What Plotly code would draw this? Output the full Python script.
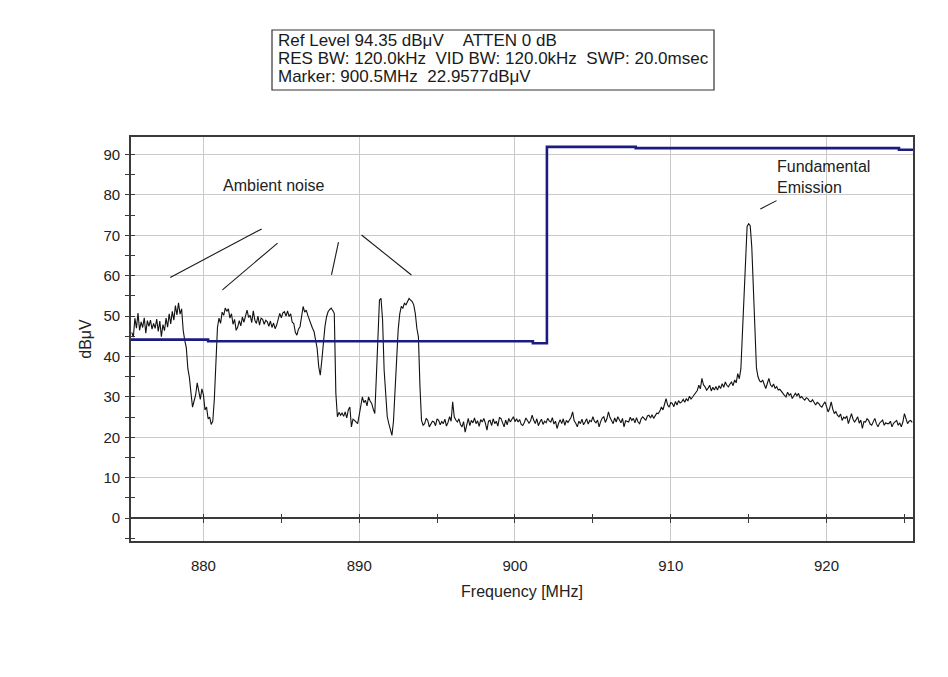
import plotly.graph_objects as go

# ---------------- data ----------------
SWEEP_START_MHZ = 875.4
SWEEP_STEP_MHZ = 0.1

LEVEL_DBUV = [
    46.0, 44.8, 49.5, 47.0, 50.8, 46.5,
    48.6, 47.2, 49.6, 45.8, 48.9, 47.5, 49.0, 46.8, 48.2, 47.0,
    49.3, 46.2, 48.8, 44.9, 47.9, 46.4, 49.5, 47.3, 50.6, 48.1,
    51.2, 49.0, 52.6, 50.3, 53.3, 50.5, 51.8, 46.5, 44.0, 42.2,
    37.0, 34.8, 31.0, 27.5, 29.0, 30.5, 33.5, 31.8, 29.4, 32.0,
    30.5, 26.8, 27.5, 24.6, 25.0, 23.2, 24.0, 29.5, 38.0, 47.2,
    49.5, 48.2, 51.0, 50.2, 52.0, 51.2, 51.8, 49.5, 50.6, 48.0,
    49.2, 46.5, 47.3, 48.9, 47.6, 49.8, 48.5, 50.3, 51.5, 49.7,
    50.2, 48.4, 51.3, 49.0, 48.2, 50.0, 47.8, 49.5, 49.2, 48.0,
    49.0, 48.6, 47.5, 48.8, 47.2, 48.3, 46.9, 47.8, 49.5, 50.7,
    49.6, 50.8, 51.1, 50.0, 51.3, 49.9, 50.6, 48.5, 48.2, 46.0,
    45.3, 46.8, 47.4, 50.0, 52.4, 51.0, 51.5, 50.2, 49.0, 48.1,
    47.0, 46.2, 44.1, 42.0, 37.5, 35.4, 39.1, 43.5, 47.4, 49.8,
    51.1, 51.6, 52.0, 51.4, 50.7, 30.9, 25.1, 26.2, 25.5, 26.0,
    25.2, 26.3, 24.8, 26.8, 27.5, 22.6, 24.5, 24.2, 23.8, 23.4,
    25.5, 28.4, 30.0, 28.6, 29.2, 27.8, 30.0, 29.0, 28.4, 27.0,
    25.9, 35.0, 44.9, 54.0, 54.4, 49.0, 36.6, 29.5, 25.1, 23.4,
    22.0, 20.5, 24.0, 32.5, 40.0, 46.6, 50.5, 52.4, 52.0, 53.2,
    52.8, 53.6, 54.4, 54.0, 53.6, 52.8, 50.7, 47.0, 44.9, 32.5,
    24.2, 23.0, 23.4, 24.7, 24.2, 22.6, 23.3, 24.0, 23.8, 22.9,
    24.6, 24.2, 23.1, 23.9, 23.4, 24.5, 22.8, 23.7, 25.1, 24.0,
    28.8, 25.1, 24.3, 23.8, 24.6, 23.2, 22.6, 23.9, 21.3, 23.5,
    24.7, 22.9, 24.2, 23.6, 24.8, 23.4, 24.1, 22.7, 24.4, 23.8,
    24.7, 23.5, 21.8, 24.0, 24.2, 22.9, 24.6, 23.4, 24.0, 22.8,
    24.9, 24.7, 23.6, 22.6, 24.3, 23.1, 24.7, 23.8, 24.5, 25.1,
    23.9, 24.6, 23.8, 24.4, 23.2, 22.96, 23.7, 24.8, 24.2, 23.5,
    24.1, 25.5, 24.3, 23.4, 24.6, 22.9, 23.8, 24.5, 23.2, 24.0,
    23.6, 24.7, 24.1, 23.8, 24.9, 23.3, 24.0, 22.2, 23.5, 24.4,
    23.4, 24.6, 23.0, 24.2, 23.7, 24.4, 25.0, 26.3, 24.1, 23.5,
    22.6, 24.0, 23.4, 24.5, 23.1, 23.8, 24.6, 23.3, 24.2, 23.9,
    25.1, 24.0, 23.6, 24.3, 22.6, 23.9, 24.8, 25.1, 23.7, 24.6,
    26.3, 24.9, 24.2, 23.4, 24.8, 23.8, 25.1, 24.3, 23.6, 24.7,
    22.6, 24.1, 23.9, 23.8, 25.0, 24.2, 24.7, 23.6, 24.9, 23.8,
    23.4, 24.6, 25.1, 24.5, 24.2, 25.3, 25.5, 24.8, 25.6, 24.7,
    25.2, 26.0, 25.9, 26.5, 27.5, 26.8, 28.2, 29.6, 28.0, 27.5,
    28.6, 28.4, 27.6, 28.9, 28.0, 29.1, 28.5, 28.8, 29.4, 28.7,
    29.6, 29.0, 30.2, 29.5, 30.0, 30.6, 30.9, 31.6, 32.9, 32.0,
    34.6, 33.0, 32.5, 31.7, 32.2, 32.9, 31.5, 32.4, 31.7, 32.6,
    31.7, 32.8, 32.1, 33.3, 32.4, 33.7, 32.9, 32.5, 33.2, 33.7,
    32.8, 34.2, 33.5, 35.8, 34.5, 37.0, 45.7, 55.6, 66.4, 72.2,
    72.9, 72.4, 67.2, 56.3, 44.9, 37.2, 35.0, 34.0, 33.7, 34.2,
    33.1, 32.1, 33.4, 34.6, 33.0, 32.5, 33.2, 32.1, 32.6, 31.7,
    31.9, 31.3, 31.0, 30.4, 30.0, 31.2, 30.4, 30.8, 29.6, 30.2,
    30.9, 30.3, 30.9, 29.8, 30.1, 29.6, 29.2, 29.8, 29.6, 29.0,
    28.8, 29.3, 28.5, 28.0, 28.7, 28.4, 27.8, 27.5, 28.2, 28.8,
    27.6, 26.3, 27.2, 28.8, 27.0, 25.9, 26.4, 25.5, 25.1, 25.8,
    24.2, 25.0, 24.7, 25.3, 23.4, 24.6, 25.9, 24.5, 23.8, 24.4,
    25.1, 23.5, 24.3, 22.2, 23.9, 23.8, 24.6, 24.2, 23.3, 23.0,
    24.1, 24.7, 23.4, 22.6, 23.5, 23.8, 24.3, 23.0, 23.6, 23.4,
    23.4, 24.0, 22.6, 23.5, 23.8, 24.2, 23.0, 23.6, 22.6, 23.8,
    25.9, 24.4, 23.4, 24.0, 24.2, 23.7,
]
FREQ_MHZ = [round(SWEEP_START_MHZ + SWEEP_STEP_MHZ * i, 2) for i in range(len(LEVEL_DBUV))]

LIMIT_FREQ_MHZ = [875.35, 880.3, 880.3, 901.15, 901.15, 902.05, 902.05, 907.75, 907.75, 924.65, 924.65, 925.55]
LIMIT_DBUV = [44.2, 44.2, 43.8, 43.8, 43.3, 43.3, 91.9, 91.9, 91.6, 91.6, 91.2, 91.2]

X_RANGE = [875.35, 925.55]
Y_RANGE = [-5.65, 94.35]
X_TICKS = [880, 890, 900, 910, 920]
Y_TICKS = [0, 10, 20, 30, 40, 50, 60, 70, 80, 90]

# pointer lines (x0, y0, x1, y1) in data units
AMBIENT_POINTERS = [
    (877.87, 59.6, 883.74, 71.6),
    (881.22, 56.5, 884.76, 68.1),
    (888.22, 60.2, 888.67, 68.3),
    (890.15, 70.1, 893.35, 60.2),
]
FUND_POINTER = (915.75, 76.5, 916.79, 78.6)

HEADER_LINES = [
    "Ref Level 94.35 dBμV\u00a0\u00a0\u00a0\u00a0ATTEN 0 dB",
    "RES BW: 120.0kHz\u00a0\u00a0VID BW: 120.0kHz\u00a0\u00a0SWP: 20.0msec",
    "Marker: 900.5MHz\u00a0\u00a022.9577dBμV",
]

FONT = "Arial, Liberation Sans, Helvetica, sans-serif"
AXIS_COLOR = "#3a3a3a"
GRID_COLOR = "#c9c9c9"

fig = go.Figure()

fig.add_trace(go.Scatter(x=FREQ_MHZ, y=LEVEL_DBUV, mode="lines",
                         line=dict(color="#111111", width=1.1), hoverinfo="skip",
                         showlegend=False))
fig.add_trace(go.Scatter(x=LIMIT_FREQ_MHZ, y=LIMIT_DBUV, mode="lines",
                         line=dict(color="#1c1c80", width=2.6), hoverinfo="skip",
                         showlegend=False))
# helper (invisible) traces so the tick-only axes get drawn
fig.add_trace(go.Scatter(x=X_RANGE, y=Y_RANGE, xaxis="x2", yaxis="y", mode="markers",
                         marker=dict(opacity=0), hoverinfo="skip", showlegend=False))
fig.add_trace(go.Scatter(x=X_RANGE, y=Y_RANGE, xaxis="x3", yaxis="y", mode="markers",
                         marker=dict(opacity=0), hoverinfo="skip", showlegend=False))
fig.add_trace(go.Scatter(x=X_RANGE, y=Y_RANGE, xaxis="x", yaxis="y2", mode="markers",
                         marker=dict(opacity=0), hoverinfo="skip", showlegend=False))

zero_pos = (0 - Y_RANGE[0]) / (Y_RANGE[1] - Y_RANGE[0])

fig.update_layout(
    width=948, height=677,
    margin=dict(l=123, r=43, t=129, b=144),
    paper_bgcolor="white", plot_bgcolor="white",
    font=dict(family=FONT, color="#222222", size=15),
    xaxis=dict(range=X_RANGE, tickvals=X_TICKS, ticks="", showgrid=True,
               gridcolor=GRID_COLOR, gridwidth=1, zeroline=False,
               showline=True, linecolor=AXIS_COLOR, linewidth=1.6, mirror=True,
               tickfont=dict(size=15), ticklabelstandoff=10,
               title=dict(text="Frequency [MHz]", font=dict(size=16), standoff=13)),
    xaxis2=dict(range=X_RANGE, overlaying="x", anchor="free", position=zero_pos,
                side="bottom", tick0=880, dtick=5, ticks="outside", ticklen=4,
                tickwidth=1, tickcolor=AXIS_COLOR, showticklabels=False,
                showgrid=False, zeroline=False, showline=False),
    xaxis3=dict(range=X_RANGE, overlaying="x", anchor="free", position=zero_pos,
                side="bottom", tick0=880, dtick=5, ticks="inside", ticklen=4,
                tickwidth=1, tickcolor=AXIS_COLOR, showticklabels=False,
                showgrid=False, zeroline=False, showline=False),
    yaxis=dict(range=Y_RANGE, tickvals=Y_TICKS, ticks="outside", ticklen=4,
               tickwidth=1, tickcolor=AXIS_COLOR,
               minor=dict(tick0=0, dtick=5, ticks="outside", ticklen=4,
                          tickcolor=AXIS_COLOR, showgrid=False),
               showgrid=True, gridcolor=GRID_COLOR, gridwidth=1,
               zeroline=True, zerolinecolor=AXIS_COLOR, zerolinewidth=1.6,
               showline=True, linecolor=AXIS_COLOR, linewidth=1.6, mirror=True,
               tickfont=dict(size=15), ticklabelstandoff=2,
               title=dict(text="dBμV", font=dict(size=16), standoff=8)),
    yaxis2=dict(range=Y_RANGE, overlaying="y", anchor="x", side="left",
                tickvals=Y_TICKS, ticks="inside", ticklen=4, tickwidth=1,
                tickcolor=AXIS_COLOR,
                minor=dict(tick0=0, dtick=5, ticks="inside", ticklen=4,
                           tickcolor=AXIS_COLOR, showgrid=False),
                showticklabels=False, showgrid=False, zeroline=False,
                showline=False),
)

for x0, y0, x1, y1 in AMBIENT_POINTERS:
    fig.add_shape(type="line", xref="x", yref="y", x0=x0, y0=y0, x1=x1, y1=y1,
                  line=dict(color="#1a1a1a", width=1.1))
fx0, fy0, fx1, fy1 = FUND_POINTER
fig.add_shape(type="line", xref="x", yref="y", x0=fx0, y0=fy0, x1=fx1, y1=fy1,
              line=dict(color="#1a1a1a", width=1.1))

fig.add_annotation(x=884.5, y=82.3, xref="x", yref="y", text="Ambient noise",
                   showarrow=False, xanchor="center", yanchor="middle",
                   font=dict(size=16, color="#222222"))
fig.add_annotation(x=916.7, y=84.4, xref="x", yref="y", text="Fundamental<br>Emission",
                   showarrow=False, xanchor="left", yanchor="middle", align="left",
                   font=dict(size=16, color="#222222"))

# header box
fig.add_shape(type="rect", xref="paper", yref="paper",
              x0=(264 - 123) / 782, x1=(706 - 123) / 782,
              y0=(533 - 82) / 404, y1=(533 - 22) / 404,
              line=dict(color="#333333", width=1.2), fillcolor="white")
for i, (line_text, py) in enumerate(zip(HEADER_LINES, [32.5, 50.5, 68.5])):
    fig.add_annotation(x=(268 - 123) / 782, y=(533 - py) / 404, xref="paper", yref="paper",
                       text=line_text, showarrow=False, xanchor="left", yanchor="middle",
                       font=dict(size=17, color="#1a1a1a"))

fig.write_html("out.html")
